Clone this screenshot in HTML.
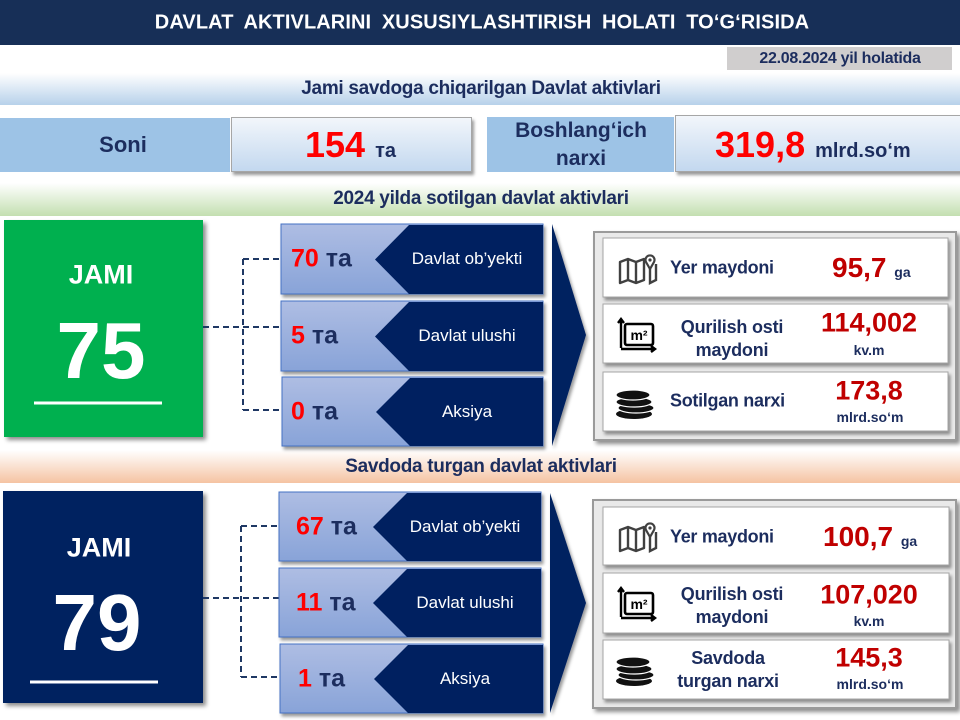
<!DOCTYPE html>
<html><head><meta charset="utf-8">
<style>
*{margin:0;padding:0;box-sizing:border-box}
body{width:960px;height:720px;position:relative;overflow:hidden;background:#fff;font-family:"Liberation Sans",Arial,sans-serif}
.a{position:absolute;white-space:nowrap}
.c{transform:translate(-50%,-50%);text-align:center}
.nv{color:#1c2d5e;font-weight:bold}
.red{color:#ff0000;font-weight:bold}
.dr{color:#c00000;font-weight:bold}
.w{color:#fff}
.band{position:absolute;left:0;width:960px}
</style></head>
<body>
<!-- header -->
<div class="a" style="left:0;top:0;width:960px;height:45px;background:#172f57"></div>
<div class="a c w" style="left:482px;top:23px;font-size:20px;font-weight:bold;word-spacing:5px;letter-spacing:0.1px">DAVLAT AKTIVLARINI XUSUSIYLASHTIRISH HOLATI TO‘G‘RISIDA</div>
<div class="a" style="left:727px;top:47px;width:225px;height:23px;background:#d0cece"></div>
<div class="a c nv" style="left:840px;top:59px;font-size:16px;letter-spacing:-0.3px">22.08.2024 yil holatida</div>

<!-- band1 -->
<div class="band" style="top:73px;height:32px;background:linear-gradient(#ffffff,#b7d1ea)"></div>
<div class="a c nv" style="left:481px;top:89px;font-size:19px;letter-spacing:-0.3px">Jami savdoga chiqarilgan Davlat aktivlari</div>

<!-- row1 -->
<div class="a" style="left:0;top:118px;width:230px;height:54px;background:#9dc3e6"></div>
<div class="a c nv" style="left:123px;top:145px;font-size:22px">Soni</div>
<div class="a" style="left:231px;top:117px;width:241px;height:55px;background:linear-gradient(#f2f6fb,#c3d8ef);border:1px solid #a6a6a6;box-shadow:2px 3px 3px rgba(0,0,0,.4)"></div>
<div class="a" style="left:305px;top:124px;font-size:36px;line-height:42px;font-weight:bold;color:#ff0000">154 <span style="font-size:20px;color:#1c2d5e">та</span></div>
<div class="a" style="left:487px;top:117px;width:187px;height:55px;background:#9dc3e6"></div>
<div class="a c nv" style="left:581px;top:145px;font-size:21px;line-height:28px">Boshlang‘ich<br>narxi</div>
<div class="a" style="left:675px;top:115px;width:290px;height:57px;background:linear-gradient(#f2f6fb,#c3d8ef);border:1px solid #a6a6a6;box-shadow:2px 3px 3px rgba(0,0,0,.4)"></div>
<div class="a" style="left:715px;top:124px;font-size:36px;line-height:42px;font-weight:bold;color:#ff0000">319,8 <span style="font-size:20px;color:#1c2d5e">mlrd.so‘m</span></div>

<!-- band2 -->
<div class="band" style="top:183px;height:33px;background:linear-gradient(#ffffff,#c3dfb0)"></div>
<div class="a c nv" style="left:481px;top:199px;font-size:19px;letter-spacing:-0.3px">2024 yilda sotilgan davlat aktivlari</div>

<!-- band3 -->
<div class="band" style="top:450px;height:33px;background:linear-gradient(#ffffff,#f5c3a2)"></div>
<div class="a c nv" style="left:481px;top:467px;font-size:19px;letter-spacing:-0.3px">Savdoda turgan davlat aktivlari</div>

<svg class="a" style="left:0;top:0" width="960" height="720" xmlns="http://www.w3.org/2000/svg">
<defs>
<linearGradient id="ig" x1="0" y1="0" x2="0" y2="1"><stop offset="0" stop-color="#aebde3"/><stop offset="1" stop-color="#88a3d8"/></linearGradient>
<filter id="sh" x="-10%" y="-10%" width="130%" height="130%"><feDropShadow dx="3" dy="3" stdDeviation="2" flood-color="#000" flood-opacity="0.45"/></filter>
<filter id="sh2" x="-10%" y="-10%" width="130%" height="140%"><feDropShadow dx="2" dy="3" stdDeviation="1.5" flood-color="#000" flood-opacity="0.4"/></filter>
<g id="map"><path d="M2,8 L10,5 L18,8 L26,5 L26,26 L18,29 L10,26 L2,29 Z M10,5 V26 M18,8 V29" fill="none" stroke="#404040" stroke-width="2.4" stroke-linejoin="round"/><path d="M32,15 L28,8 A4.5,4.5 0 1 1 36,8 Z" fill="#fff" stroke="#404040" stroke-width="2.2"/><circle cx="32" cy="6" r="1.6" fill="#404040"/><path d="M32,15 V29 L38,26 V10" fill="none" stroke="#404040" stroke-width="2.4"/></g>
<g id="m2"><rect x="7" y="6" width="28" height="21" rx="2" fill="none" stroke="#000" stroke-width="2.6"/><path d="M3,30 V2 M0,5 L3,1 L6,5 M3,31 H37 M33,28 L37,31 L33,34" fill="none" stroke="#000" stroke-width="2.4"/><text x="21" y="22" font-family="Liberation Sans" font-weight="bold" font-size="14" text-anchor="middle" fill="#000">m²</text></g>
<g id="coin"><ellipse cx="18" cy="27" rx="18" ry="5" fill="#111"/><ellipse cx="20" cy="21" rx="18" ry="5" fill="#111" stroke="#fff" stroke-width="1.2"/><ellipse cx="18" cy="15" rx="18" ry="5" fill="#111" stroke="#fff" stroke-width="1.2"/><ellipse cx="17" cy="8" rx="17" ry="5" fill="#111" stroke="#fff" stroke-width="1.2"/></g>
</defs>

<!-- section 1 -->
<rect x="4" y="220" width="199" height="217" fill="#00b050" filter="url(#sh)"/>
<line x1="34" y1="403" x2="162" y2="403" stroke="#fff" stroke-width="3"/>
<g stroke="#1f3864" stroke-width="2" stroke-dasharray="6,4" fill="none">
<path d="M203,327 H281 M243,259 V410 M243,259 H281 M243,410 H281"/>
</g>
<g filter="url(#sh2)">
<rect x="281" y="224" width="262" height="70" fill="url(#ig)" stroke="#4472c4"/>
<rect x="281" y="301" width="262" height="70" fill="url(#ig)" stroke="#4472c4"/>
<rect x="282" y="377" width="261" height="69" fill="url(#ig)" stroke="#4472c4"/>
</g>
<polygon points="409,225 543,225 543,294 409,294 375,259.5" fill="#002060"/>
<polygon points="409,302 543,302 543,371 409,371 375,336.5" fill="#002060"/>
<polygon points="410,378 543,378 543,446 410,446 376,412" fill="#002060"/>
<polygon points="552,224 586,335 552,446" fill="#002060" filter="url(#sh2)"/>

<rect x="594" y="232" width="362" height="208" fill="#e9e9e9" stroke="#9a9a9a" stroke-width="2" filter="url(#sh)"/>
<g filter="url(#sh2)">
<rect x="603" y="238" width="345" height="59" fill="#fff" stroke="#a6a6a6"/>
<rect x="603" y="304" width="345" height="59" fill="#fff" stroke="#a6a6a6"/>
<rect x="603" y="372" width="345" height="59" fill="#fff" stroke="#a6a6a6"/>
</g>
<use href="#map" x="618" y="254"/>
<use href="#m2" x="618" y="318"/>
<use href="#coin" x="616" y="387"/>

<!-- section 2 -->
<rect x="3" y="491" width="200" height="212" fill="#002060" filter="url(#sh)"/>
<line x1="30" y1="682" x2="158" y2="682" stroke="#fff" stroke-width="3"/>
<g stroke="#1f3864" stroke-width="2" stroke-dasharray="6,4" fill="none">
<path d="M203,598 H279 M241,526 V677 M241,526 H279 M241,677 H279"/>
</g>
<g filter="url(#sh2)">
<rect x="279" y="492" width="262" height="69" fill="url(#ig)" stroke="#4472c4"/>
<rect x="279" y="568" width="262" height="69" fill="url(#ig)" stroke="#4472c4"/>
<rect x="280" y="644" width="263" height="69" fill="url(#ig)" stroke="#4472c4"/>
</g>
<polygon points="407,493 541,493 541,561 407,561 373,527" fill="#002060"/>
<polygon points="407,569 541,569 541,637 407,637 373,603" fill="#002060"/>
<polygon points="408,645 543,645 543,713 408,713 374,679" fill="#002060"/>
<polygon points="550,493 586,603 550,713" fill="#002060" filter="url(#sh2)"/>

<rect x="593" y="500" width="363" height="208" fill="#e9e9e9" stroke="#9a9a9a" stroke-width="2" filter="url(#sh)"/>
<g filter="url(#sh2)">
<rect x="603" y="507" width="346" height="58" fill="#fff" stroke="#a6a6a6"/>
<rect x="603" y="573" width="346" height="60" fill="#fff" stroke="#a6a6a6"/>
<rect x="603" y="640" width="346" height="59" fill="#fff" stroke="#a6a6a6"/>
</g>
<use href="#map" x="618" y="522"/>
<use href="#m2" x="618" y="587"/>
<use href="#coin" x="616" y="654"/>
</svg>

<!-- section 1 text -->
<div class="a c w" style="left:101px;top:275px;font-size:27px;font-weight:bold">JAMI</div>
<div class="a c w" style="left:101px;top:351px;font-size:80px;font-weight:bold">75</div>

<div class="a" style="left:291px;top:259px;transform:translateY(-50%);font-size:25px;font-weight:bold;color:#ff0000">70 <span style="color:#1c2d5e">та</span></div>
<div class="a" style="left:291px;top:336px;transform:translateY(-50%);font-size:25px;font-weight:bold;color:#ff0000">5 <span style="color:#1c2d5e">та</span></div>
<div class="a" style="left:291px;top:412px;transform:translateY(-50%);font-size:25px;font-weight:bold;color:#ff0000">0 <span style="color:#1c2d5e">та</span></div>
<div class="a c w" style="left:467px;top:259px;font-size:17px">Davlat ob’yekti</div>
<div class="a c w" style="left:467px;top:336px;font-size:17px">Davlat ulushi</div>
<div class="a c w" style="left:467px;top:412px;font-size:17px">Aksiya</div>

<div class="a nv" style="left:670px;top:268px;transform:translateY(-50%);font-size:18px;letter-spacing:-0.3px">Yer maydoni</div>
<div class="a" style="left:832px;top:268px;transform:translateY(-50%);font-size:28px;font-weight:bold;color:#c00000">95,7 <span style="font-size:14px;color:#1c2d5e">ga</span></div>
<div class="a c nv" style="left:732px;top:339px;font-size:18px;line-height:23px;letter-spacing:-0.2px">Qurilish osti<br>maydoni</div>
<div class="a c dr" style="left:869px;top:323px;font-size:27px">114,002</div>
<div class="a c nv" style="left:869px;top:350px;font-size:14px">kv.m</div>
<div class="a nv" style="left:670px;top:401px;transform:translateY(-50%);font-size:18px;letter-spacing:-0.3px">Sotilgan narxi</div>
<div class="a c dr" style="left:869px;top:391px;font-size:27px">173,8</div>
<div class="a c nv" style="left:870px;top:417px;font-size:14px">mlrd.so‘m</div>

<!-- section 2 text -->
<div class="a c w" style="left:99px;top:548px;font-size:27px;font-weight:bold">JAMI</div>
<div class="a c w" style="left:97px;top:623px;font-size:80px;font-weight:bold">79</div>

<div class="a" style="left:296px;top:527px;transform:translateY(-50%);font-size:25px;font-weight:bold;color:#ff0000">67 <span style="color:#1c2d5e">та</span></div>
<div class="a" style="left:296px;top:603px;transform:translateY(-50%);font-size:25px;font-weight:bold;color:#ff0000">11 <span style="color:#1c2d5e">та</span></div>
<div class="a" style="left:298px;top:679px;transform:translateY(-50%);font-size:25px;font-weight:bold;color:#ff0000">1 <span style="color:#1c2d5e">та</span></div>
<div class="a c w" style="left:465px;top:527px;font-size:17px">Davlat ob’yekti</div>
<div class="a c w" style="left:465px;top:603px;font-size:17px">Davlat ulushi</div>
<div class="a c w" style="left:465px;top:679px;font-size:17px">Aksiya</div>

<div class="a nv" style="left:670px;top:537px;transform:translateY(-50%);font-size:18px;letter-spacing:-0.3px">Yer maydoni</div>
<div class="a" style="left:823px;top:537px;transform:translateY(-50%);font-size:28px;font-weight:bold;color:#c00000">100,7 <span style="font-size:14px;color:#1c2d5e">ga</span></div>
<div class="a c nv" style="left:732px;top:606px;font-size:18px;line-height:23px;letter-spacing:-0.2px">Qurilish osti<br>maydoni</div>
<div class="a c dr" style="left:869px;top:595px;font-size:27px">107,020</div>
<div class="a c nv" style="left:869px;top:621px;font-size:14px">kv.m</div>
<div class="a c nv" style="left:728px;top:670px;font-size:18px;line-height:23px;letter-spacing:-0.2px">Savdoda<br>turgan narxi</div>
<div class="a c dr" style="left:869px;top:658px;font-size:27px">145,3</div>
<div class="a c nv" style="left:870px;top:684px;font-size:14px">mlrd.so‘m</div>
</body></html>
